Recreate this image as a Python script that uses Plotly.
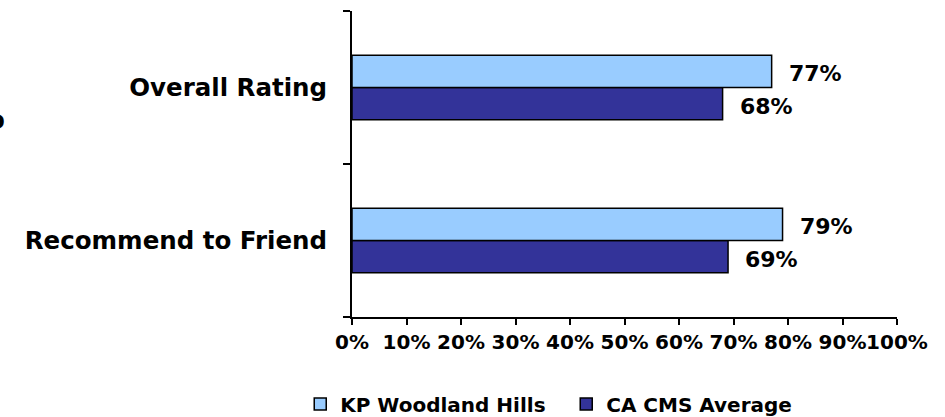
import plotly.graph_objects as go

categories = ["Overall Rating", "Recommend to Friend"]
kp_values = [0.77, 0.79]
ca_values = [0.68, 0.69]
series_names = ["KP Woodland Hills", "CA CMS Average"]
tick_vals = [i / 10 for i in range(11)]
tick_text = [f"{i*10}%" for i in range(11)]

LIGHT = "#99CCFF"
DARK = "#333399"
FONT = "DejaVu Sans"

fig = go.Figure()
# dark first -> lower slot in each group
fig.add_trace(go.Bar(
    y=categories, x=ca_values, name=series_names[1], orientation="h",
    marker=dict(color=DARK, line=dict(color="black", width=1.5)),
    legendrank=2,
))
fig.add_trace(go.Bar(
    y=categories, x=kp_values, name=series_names[0], orientation="h",
    marker=dict(color=LIGHT, line=dict(color="black", width=1.5)),
    legendrank=1,
))

label_font = dict(family=FONT, size=22, color="black", weight="bold")
annotations = []
for cat, v in zip(categories, kp_values):
    annotations.append(dict(x=v, y=cat, xref="x", yref="y", text=f"{round(v*100)}%",
                            showarrow=False, xanchor="left", yanchor="middle",
                            xshift=15, yshift=14, font=label_font))
for cat, v in zip(categories, ca_values):
    annotations.append(dict(x=v, y=cat, xref="x", yref="y", text=f"{round(v*100)}%",
                            showarrow=False, xanchor="left", yanchor="middle",
                            xshift=15, yshift=-19, font=label_font))
# clipped glyph at far left edge
annotations.append(dict(x=-0.653, y=0.644, xref="paper", yref="paper", text="o",
                        showarrow=False, xanchor="center", yanchor="middle",
                        font=dict(family=FONT, size=26, color="black", weight="bold")))

fig.update_layout(
    width=945, height=417,
    margin=dict(l=352, r=48, t=11, b=100, autoexpand=False),
    paper_bgcolor="white", plot_bgcolor="white",
    barmode="group", bargap=0.58, bargroupgap=0,
    showlegend=True,
    legend=dict(orientation="h", x=-0.095, xanchor="left", y=-0.284, yanchor="middle",
                font=dict(family=FONT, size=20, color="black", weight="bold"),
                itemwidth=30, entrywidth=221, entrywidthmode="pixels"),
    annotations=annotations,
    font=dict(family=FONT, color="black"),
)
fig.update_xaxes(range=[0, 1], tickvals=tick_vals, ticktext=tick_text, automargin=False,
                 tickangle=0,
                 showgrid=False, zeroline=False, showline=True, linecolor="black", linewidth=2,
                 ticks="outside", ticklen=6, tickwidth=2, tickcolor="black",
                 tickfont=dict(family=FONT, size=20, color="black", weight="bold"))
fig.update_yaxes(categoryorder="array", categoryarray=categories[::-1], automargin=False,
                 showgrid=False, zeroline=False, showline=True, linecolor="black", linewidth=2,
                 ticks="outside", tickson="boundaries", ticklen=7, tickwidth=2, tickcolor="black",
                 ticklabelstandoff=18,
                 tickfont=dict(family=FONT, size=24.5, color="black", weight="bold"))

fig.write_html("out.html")
